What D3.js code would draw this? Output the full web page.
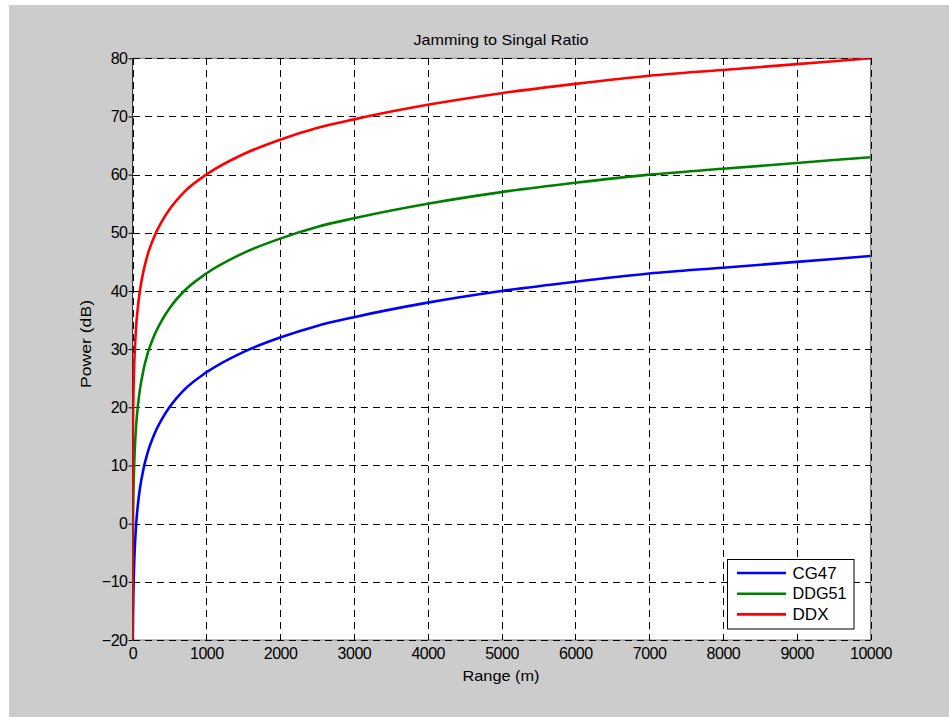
<!DOCTYPE html>
<html>
<head>
<meta charset="utf-8">
<script src="https://cdn.jsdelivr.net/npm/d3@7"></script>
<style>
  html, body { margin: 0; padding: 0; background: #ffffff; }
  svg { display: block; }
  text { font-family: "Liberation Sans", Arial, sans-serif; fill: #000; }
</style>
</head>
<body>
<svg id="chart" width="949" height="717"></svg>
<script>
// Range samples (m) and jamming-to-signal ratio (dB) for each ship
const rangeM = [0.1, 1, 5, 10, 20, 30, 50, 75, 100, 150, 200, 300, 400, 500, 700,
                1000, 1500, 2000, 2500, 3000, 4000, 5000, 6000, 7000, 8000, 9000, 10000];
const cg47  = [-54, -34, -20, -14, -8, -4.5, 0, 3.5, 6, 9.5, 12, 15.5, 18, 20, 23,
               26, 29.5, 32, 34, 35.5, 38, 40, 41.6, 43, 44, 45, 46];
const ddg51 = [-37, -17, -3, 3, 9, 12.5, 17, 20.5, 23, 26.5, 29, 32.5, 35, 37, 40,
               43, 46.5, 49, 51, 52.5, 55, 57, 58.6, 60, 61, 62, 63];
const ddx   = [-20, 0, 14, 20, 26, 29.5, 34, 37.5, 40, 43.5, 46, 49.5, 52, 54, 57,
               60, 63.5, 66, 68, 69.5, 72, 74, 75.6, 77, 78, 79, 80];

const seriesNames  = ["CG47", "DDG51", "DDX"];
const seriesColors = ["#0000ff", "#008000", "#ff0000"];
const seriesValues = [cg47, ddg51, ddx];

const xTicks = [0, 1000, 2000, 3000, 4000, 5000, 6000, 7000, 8000, 9000, 10000];
const yTicks = [-20, -10, 0, 10, 20, 30, 40, 50, 60, 70, 80];

const titleText = "Jamming to Singal Ratio";
const xLabel = "Range (m)";
const yLabel = "Power (dB)";

const svg = d3.select("#chart");

// figure background
svg.append("rect").attr("x", 9).attr("y", 5).attr("width", 940).attr("height", 712)
  .attr("fill", "#cccccc");

const plot = { left: 132.5, right: 870.5, top: 58.3, bottom: 640 };

const x = d3.scaleLinear().domain([0, 10000]).range([plot.left, plot.right]);
const y = d3.scaleLinear().domain([-20, 80]).range([plot.bottom, plot.top]);

// axes background
svg.append("rect")
  .attr("x", plot.left).attr("y", plot.top)
  .attr("width", plot.right - plot.left).attr("height", plot.bottom - plot.top)
  .attr("fill", "#ffffff").attr("stroke", "#808080").attr("stroke-width", 1);

// dashed grid
const grid = svg.append("g").attr("stroke", "#000").attr("stroke-width", 1)
  .attr("stroke-dasharray", "7,5").attr("shape-rendering", "crispEdges");
grid.selectAll("line.v").data(xTicks).join("line").attr("class", "v")
  .attr("x1", d => Math.round(x(d)) + 0.5).attr("x2", d => Math.round(x(d)) + 0.5)
  .attr("y1", plot.top).attr("y2", plot.bottom);
grid.selectAll("line.h").data(yTicks).join("line").attr("class", "h")
  .attr("y1", d => Math.round(y(d)) + 0.5).attr("y2", d => Math.round(y(d)) + 0.5)
  .attr("x1", plot.left).attr("x2", plot.right);

// axes with tick labels
const xAxis = d3.axisBottom(x).tickValues(xTicks).tickSize(0).tickPadding(8)
  .tickFormat(d3.format("d"));
const yAxis = d3.axisLeft(y).tickValues(yTicks).tickSize(4).tickPadding(1)
  .tickFormat(d3.format("d"));

const gx = svg.append("g").attr("transform", `translate(0,${plot.bottom})`).call(xAxis);
const gy = svg.append("g").attr("transform", `translate(${plot.left},0)`).call(yAxis);
[gx, gy].forEach(g => {
  g.select(".domain").remove();
  g.selectAll("text").style("font-size", "16px").style("letter-spacing", "-0.5px")
    .attr("fill", "#000");
  g.selectAll("line").attr("stroke", "#000");
});

// left axis line
svg.append("line").attr("x1", plot.left).attr("x2", plot.left)
  .attr("y1", plot.top).attr("y2", plot.bottom).attr("stroke", "#333").attr("stroke-width", 1);

// curves
svg.append("clipPath").attr("id", "plotClip").append("rect")
  .attr("x", plot.left).attr("y", plot.top)
  .attr("width", plot.right - plot.left).attr("height", plot.bottom - plot.top);

const line = d3.line().x((d, i) => x(rangeM[i])).y(d => y(d)).curve(d3.curveMonotoneX);

const curves = svg.append("g").attr("clip-path", "url(#plotClip)");
seriesValues.forEach((vals, k) => {
  curves.append("path").datum(vals)
    .attr("d", line)
    .attr("fill", "none")
    .attr("stroke", seriesColors[k])
    .attr("stroke-width", 2.6)
    .attr("stroke-linejoin", "round");
});

// title and axis labels
svg.append("text").attr("x", 501).attr("y", 45).attr("text-anchor", "middle")
  .attr("textLength", 175).attr("lengthAdjust", "spacingAndGlyphs")
  .style("font-size", "15px").text(titleText);
svg.append("text").attr("x", 501).attr("y", 681).attr("text-anchor", "middle")
  .attr("textLength", 77).attr("lengthAdjust", "spacingAndGlyphs")
  .style("font-size", "15px").text(xLabel);
svg.append("text").attr("transform", "translate(91,344) rotate(-90)")
  .attr("text-anchor", "middle")
  .attr("textLength", 88).attr("lengthAdjust", "spacingAndGlyphs")
  .style("font-size", "15px").text(yLabel);

// legend
const legend = { x: 727.5, y: 559.5, w: 126.5, h: 69.5 };
const legendTextWidths = [44, 54, 36];
const lg = svg.append("g");
lg.append("rect").attr("x", legend.x).attr("y", legend.y)
  .attr("width", legend.w).attr("height", legend.h)
  .attr("fill", "#fff").attr("stroke", "#000").attr("stroke-width", 1);
seriesNames.forEach((name, k) => {
  const yy = 573 + k * 20.7;
  lg.append("line").attr("x1", 737).attr("x2", 786).attr("y1", yy).attr("y2", yy)
    .attr("stroke", seriesColors[k]).attr("stroke-width", 2.6);
  lg.append("text").attr("x", 792.5).attr("y", yy + 5.5)
    .attr("textLength", legendTextWidths[k]).attr("lengthAdjust", "spacingAndGlyphs")
    .style("font-size", "16px").text(name);
});
</script>
</body>
</html>
